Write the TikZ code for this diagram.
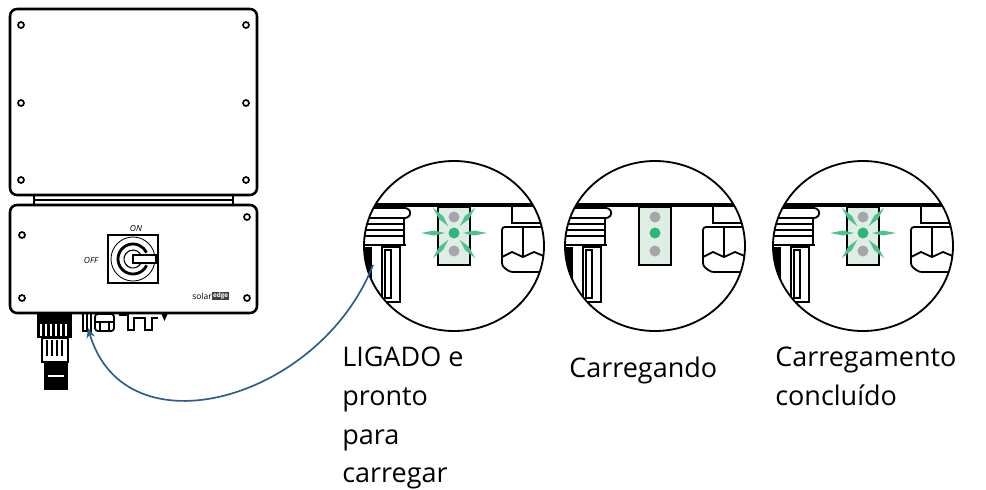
\documentclass[tikz,border=0pt]{standalone}
\usepackage{fontspec}
\setmainfont{Open Sans}
\usetikzlibrary{arrows.meta}

\definecolor{ledgreen}{HTML}{2DB57A}
\definecolor{ledglow}{HTML}{4CC28C}
\definecolor{ledpanel}{HTML}{DFEEE4}
\definecolor{ledgrey}{HTML}{A7A5AB}
\definecolor{cableblue}{HTML}{2D5C8E}

\tikzset{
  housing/.style={line width=1.8pt, rounded corners=5pt},
  screw/.style={line width=1.2pt},
  detail/.style={line width=1.3pt},
  caption/.style={font=\fontsize{19.2}{27.5}\selectfont, align=left, inner sep=0pt},
  tinytext/.style={font=\fontsize{6}{7}\selectfont\itshape, inner sep=0pt},
}

\begin{document}
\begin{tikzpicture}[x=0.025cm, y=-0.025cm]
  \useasboundingbox (0,0) rectangle (986,489);

  % Inverter: upper cover
  \draw[housing] (10,9) rectangle (257,195);
  \foreach \sx in {21,246}
    \foreach \sy in {25,103,180}
      \draw[screw] (\sx,\sy) circle (3);
  \draw[detail] (34,195) -- (34,205) (233,195) -- (233,205);
  \draw[line width=0.9pt] (34,200) -- (233,200);

  % Inverter: connection unit
  \draw[housing] (10,205) rectangle (257,313);
  \foreach \p in {(22,235),(247,217),(22,298),(247,298)}
    \draw[screw] \p circle (3);

  % safety switch
  \draw[line width=1.5pt] (108,235) rectangle (158,283);
  \draw[line width=0.6pt] (133,259) circle (22);
  \draw[line width=2pt] (133,259) ++(25:15) arc[start angle=25, end angle=335, radius=15];
  \draw[line width=0.8pt] (133,259) ++(35:9) arc[start angle=35, end angle=325, radius=9];
  \draw[line width=1.2pt, fill=white] (133,255) rectangle (156,263);
  \node[tinytext] (on) at (136,228) {ON};
  \node[tinytext] (off) at (91,260) {OFF};

  % logo
  \node[tinytext, font=\fontsize{6}{7}\selectfont, anchor=east] (logo) at (212,296) {solar};
  \node[anchor=west, fill=black!75, text=white, inner sep=0.6pt,
        font=\fontsize{4.5}{5}\selectfont\bfseries] (logoedge) at (logo.east) {edge};

  % AC connector
  \fill (37,313) rectangle (72,338);
  \foreach \sx in {41,46,...,68}
    \draw[white, line width=1.1pt] (\sx,324) -- (\sx,336);
  \draw[line width=1.8pt] (42,338) rectangle (68,362);
  \foreach \sx in {47,52,...,64}
    \draw[line width=1pt] (\sx,340) -- (\sx,356);
  \fill (44,362) rectangle (68,390);
  \draw[white, line width=0.8pt] (48,376) -- (64,376);

  % glands
  \draw[detail] (83,313) rectangle (91,331);
  \draw[detail] (87,313) -- (87,331);
  \draw[detail, rounded corners=2pt] (95,314) rectangle (114,331);
  \draw[detail] (95,322) -- (114,322) (100,322) -- (100,331) (109,322) -- (109,331);
  \fill (119,312) rectangle (127,316);
  \draw[detail] (128,313) -- (128,330) -- (134,330) -- (134,318) -- (145,318)
    -- (145,330) -- (152,330) -- (152,318) -- (158,318);
  \fill (161,313) -- (168,313) -- (164.5,321) -- cycle;

  % magnified views of the LED panel
  \foreach \cx/\glow in {454/1,655/0,863/1}{
    \begin{scope}[shift={(\cx,240)}]
      \begin{scope}
        \clip (0,6) ellipse [x radius=90, y radius=85];
        \fill (-100,-37) rectangle (100,-33);
        \draw[detail, rounded corners=2pt, fill=white] (-100,-32) -- (-46,-32) -- (-43,-27) -- (-46,-22) -- (-100,-22);
        \draw[detail] (-100,-22) rectangle (-50,5);
        \foreach \sy in {-16,-10,-4}
          \draw[line width=1.6pt] (-100,\sy) -- (-50,\sy);
        \draw[line width=2pt] (-100,5) -- (-48,5);
        \fill (-89,7) rectangle (-82,62);
        \draw[detail] (-72,7) rectangle (-54,62);
        \draw[detail] (-69,10) rectangle (-63,58);
        % right gland
        \draw[detail] (58,-33) -- (58,-17) -- (100,-17);
        \draw[detail, rounded corners=2pt] (100,-13) -- (48,-13) -- (48,26) -- (56,32) -- (100,32);
        \draw[detail] (69,-13) -- (69,17);
        \draw[detail] (48,17) -- (58,12) -- (69,17) -- (80,12) -- (92,17);
        % LED panel
        \draw[detail, fill=ledpanel] (-16,-33) rectangle (16,25);
        \ifnum\glow=1
          \foreach \a in {0,50,130,180,230,310}
            \fill[ledglow, rotate around={\a:(0,-7)}] (9,-7) -- (20,-9.5) -- (33,-7) -- (20,-4.5) -- cycle;
        \fi
        \fill[ledgrey] (0,-23) circle (5.5);
        \fill[ledgrey] (0,11) circle (5.5);
        \fill[ledgreen] (0,-7) circle (5.5);
      \end{scope}
      \draw[line width=1.3pt] (0,6) ellipse [x radius=90, y radius=85];
    \end{scope}
  }

  % cable from LED view to connector
  \coordinate (ledport) at (373,265);
  \coordinate (plug) at (88,328);
  \draw[cableblue, line width=1.2pt, -{Stealth[length=7pt,width=6pt]}]
    (ledport) .. controls (320,400) and (125,455) .. (plug);

  % captions
  \node[caption, anchor=north west] (lbl-ready) at (342,347) {LIGADO e\\pronto\\para\\carregar};
  \node[caption, anchor=north west] (lbl-charging) at (569,357) {Carregando};
  \node[caption, anchor=north west] (lbl-done) at (775,347) {Carregamento\\concluído};
\end{tikzpicture}
\end{document}
